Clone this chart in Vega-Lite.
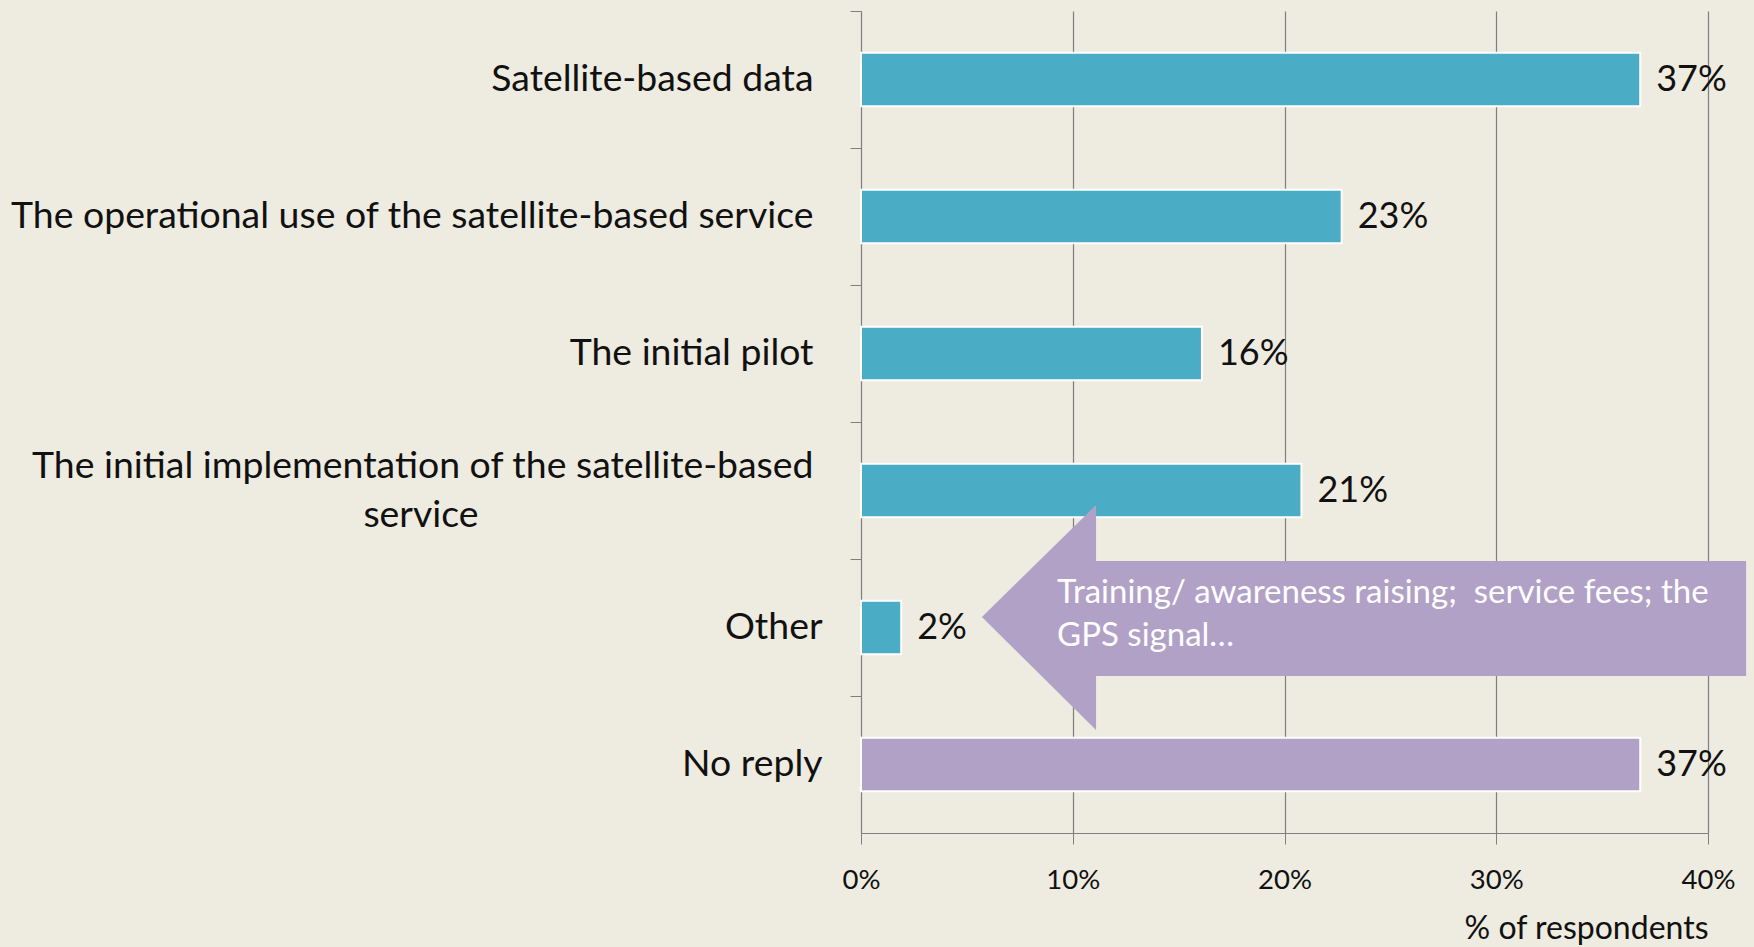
{
  "$schema": "https://vega.github.io/schema/vega-lite/v6.json",
  "width": 847,
  "height": 822,
  "autosize": {"type": "none"},
  "padding": {"left": 861, "top": 11, "right": 46, "bottom": 114},
  "background": "#EEEBE0",
  "config": {"font": "Lato", "view": {"stroke": null}},
  "datasets": {
    "answers": [
      {"category": "Satellite-based data", "share": 0.368, "kind": "answer"},
      {"category": "The operational use of the satellite-based service", "share": 0.227, "kind": "answer"},
      {"category": "The initial pilot", "share": 0.161, "kind": "answer"},
      {"category": "The initial implementation of the satellite-based service", "share": 0.208, "kind": "answer"},
      {"category": "Other", "share": 0.019, "kind": "answer"},
      {"category": "No reply", "share": 0.368, "kind": "no reply"}
    ],
    "arrowHead": [
      {"x": 0.0571, "top": 4.423, "bottom": 4.423},
      {"x": 0.111, "top": 3.606, "bottom": 5.248}
    ],
    "arrowShaft": [
      {"x": 0.1105, "x2": 0.418, "top": 4.015, "bottom": 4.854}
    ],
    "note": [
      {"x": 0.0926, "y": 4.248, "text": "Training/ awareness raising;\u00a0 service fees; the\nGPS signal…"}
    ]
  },
  "layer": [
    {
      "data": {"name": "answers"},
      "encoding": {
        "y": {
          "field": "category",
          "type": "nominal",
          "sort": null,
          "scale": {"paddingInner": 0.61, "paddingOuter": 0.305},
          "axis": {
            "title": null,
            "domainColor": "#7F7F7F",
            "tickColor": "#7F7F7F",
            "tickSize": 11,
            "tickOffset": -68.5,
            "labelOffset": {"condition": {"test": "datum.value === 'The initial implementation of the satellite-based service'", "value": 44}, "value": 68.5},
            "labelFontSize": 37.4,
            "labelColor": "#111111",
            "labelPadding": {"condition": {"test": "datum.value === 'Other' || datum.value === 'No reply'", "value": 28}, "value": 37},
            "labelLimit": 1000,
            "labelLineHeight": 49,
            "labelOverlap": false,
            "labelExpr": "datum.value === 'The initial implementation of the satellite-based service' ? ['The initial implementation of the satellite-based', 'service\u00a0\u00a0\u00a0\u00a0\u00a0\u00a0\u00a0\u00a0\u00a0\u00a0\u00a0\u00a0\u00a0\u00a0\u00a0\u00a0\u00a0\u00a0\u00a0\u00a0\u00a0\u00a0\u00a0\u00a0\u00a0\u00a0\u00a0\u00a0\u00a0\u00a0\u00a0\u00a0\u00a0\u00a0\u00a0\u2060'] : datum.value"
          }
        },
        "x": {
          "field": "share",
          "type": "quantitative",
          "title": "% of respondents",
          "scale": {"domain": [0, 0.4]},
          "axis": {
            "format": ".0%",
            "values": [0, 0.1, 0.2, 0.3, 0.4],
            "grid": true,
            "gridColor": "#7F7F7F",
            "gridWidth": 1.2,
            "domainColor": "#7F7F7F",
            "tickColor": "#7F7F7F",
            "tickSize": 11,
            "labelFlush": false,
            "labelFontSize": 27.5,
            "labelColor": "#111111",
            "labelPadding": 22,
            "titleFontSize": 32,
            "titleFontWeight": "normal",
            "titleColor": "#111111",
            "titleAnchor": "end",
            "titlePadding": 20
          }
        }
      },
      "layer": [
        {
          "mark": {"type": "bar", "stroke": "white", "strokeWidth": 2},
          "encoding": {
            "color": {
              "field": "kind",
              "type": "nominal",
              "scale": {"domain": ["answer", "no reply"], "range": ["#4BACC6", "#B2A1C7"]},
              "legend": null
            }
          }
        },
        {
          "mark": {"type": "text", "align": "left", "baseline": "middle", "dx": 16, "fontSize": 36, "color": "#111111"},
          "encoding": {
            "text": {"field": "share", "type": "quantitative", "format": ".0%"}
          }
        }
      ]
    },
    {
      "data": {"name": "arrowHead"},
      "mark": {"type": "area", "orient": "vertical", "color": "#B2A1C7", "opacity": 1, "clip": false},
      "encoding": {
        "x": {
          "field": "x",
          "type": "quantitative",
          "title": "% of respondents",
          "scale": {"domain": [0, 0.4]},
          "axis": {
            "format": ".0%",
            "values": [0, 0.1, 0.2, 0.3, 0.4],
            "grid": true,
            "gridColor": "#7F7F7F",
            "gridWidth": 1.2,
            "domainColor": "#7F7F7F",
            "tickColor": "#7F7F7F",
            "tickSize": 11,
            "labelFlush": false,
            "labelFontSize": 27.5,
            "labelColor": "#111111",
            "labelPadding": 22,
            "titleFontSize": 32,
            "titleFontWeight": "normal",
            "titleColor": "#111111",
            "titleAnchor": "end",
            "titlePadding": 20
          }
        },
        "y": {"field": "top", "type": "quantitative", "scale": {"domain": [0, 6], "reverse": true}, "axis": null},
        "y2": {"field": "bottom"}
      }
    },
    {
      "data": {"name": "arrowShaft"},
      "mark": {"type": "rect", "color": "#B2A1C7", "opacity": 1, "clip": false},
      "encoding": {
        "x": {
          "field": "x",
          "type": "quantitative",
          "title": "% of respondents",
          "scale": {"domain": [0, 0.4]},
          "axis": {
            "format": ".0%",
            "values": [0, 0.1, 0.2, 0.3, 0.4],
            "grid": true,
            "gridColor": "#7F7F7F",
            "gridWidth": 1.2,
            "domainColor": "#7F7F7F",
            "tickColor": "#7F7F7F",
            "tickSize": 11,
            "labelFlush": false,
            "labelFontSize": 27.5,
            "labelColor": "#111111",
            "labelPadding": 22,
            "titleFontSize": 32,
            "titleFontWeight": "normal",
            "titleColor": "#111111",
            "titleAnchor": "end",
            "titlePadding": 20
          }
        },
        "x2": {"field": "x2"},
        "y": {"field": "top", "type": "quantitative", "scale": {"domain": [0, 6], "reverse": true}, "axis": null},
        "y2": {"field": "bottom"}
      }
    },
    {
      "data": {"name": "note"},
      "mark": {"type": "text", "align": "left", "baseline": "middle", "color": "white", "fontSize": 33, "lineBreak": "\n", "lineHeight": 43},
      "encoding": {
        "x": {
          "field": "x",
          "type": "quantitative",
          "title": "% of respondents",
          "scale": {"domain": [0, 0.4]},
          "axis": {
            "format": ".0%",
            "values": [0, 0.1, 0.2, 0.3, 0.4],
            "grid": true,
            "gridColor": "#7F7F7F",
            "gridWidth": 1.2,
            "domainColor": "#7F7F7F",
            "tickColor": "#7F7F7F",
            "tickSize": 11,
            "labelFlush": false,
            "labelFontSize": 27.5,
            "labelColor": "#111111",
            "labelPadding": 22,
            "titleFontSize": 32,
            "titleFontWeight": "normal",
            "titleColor": "#111111",
            "titleAnchor": "end",
            "titlePadding": 20
          }
        },
        "y": {"field": "y", "type": "quantitative", "scale": {"domain": [0, 6], "reverse": true}, "axis": null},
        "text": {"field": "text", "type": "nominal"}
      }
    }
  ],
  "resolve": {"scale": {"y": "independent"}}
}
